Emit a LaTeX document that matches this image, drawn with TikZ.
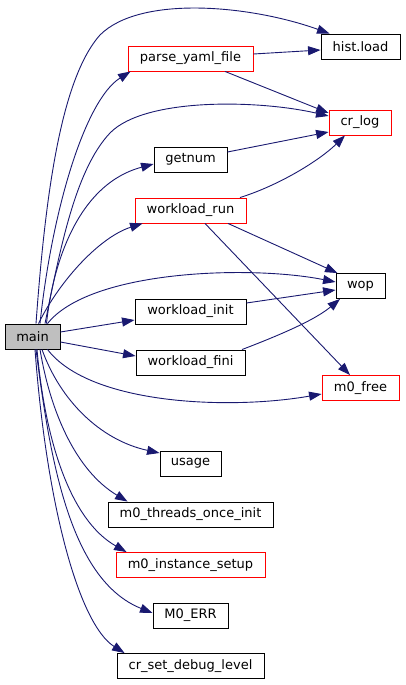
\documentclass[tikz,border=0pt]{standalone}
\usepackage{fontspec}
\setmainfont{DejaVu Sans}
\usetikzlibrary{arrows.meta}
\definecolor{edgeblue}{HTML}{191970}
\definecolor{boxred}{HTML}{FF0000}
\definecolor{boxgray}{HTML}{BFBFBF}
\begin{document}
\begin{tikzpicture}[x=1pt,y=-1pt,
  fn/.style={draw=black, line width=0.9pt, minimum height=25pt, inner sep=0pt,
    font=\fontsize{13}{15}\selectfont, fill=white},
  fnred/.style={fn, draw=boxred},
  call/.style={draw=edgeblue, line width=0.9pt, -{Triangle[length=12.5pt,width=9pt]}}]
\useasboundingbox (0,0) rectangle (405,685);
% nodes
\node[fn, fill=boxgray, minimum width=55pt] (main) at (32.5,336.5) {main};
\node[fn, minimum width=79pt] (hist) at (360.5,46.5) {hist.load};
\node[fnred, minimum width=125pt] (parse) at (190.5,58.5) {parse\_yaml\_file};
\node[fnred, minimum width=62pt] (crlog) at (360,122.5) {cr\_log};
\node[fn, minimum width=73pt] (getnum) at (190.5,159.5) {getnum};
\node[fnred, minimum width=111pt] (wlrun) at (190.5,210.5) {workload\_run};
\node[fn, minimum width=49pt] (wop) at (360.5,286) {wop};
\node[fn, minimum width=111pt] (wlinit) at (190.5,311.5) {workload\_init};
\node[fn, minimum width=109pt] (wlfini) at (190.5,362.5) {workload\_fini};
\node[fnred, minimum width=77pt] (m0free) at (360.5,388) {m0\_free};
\node[fn, minimum width=61pt] (usage) at (190.5,463.5) {usage};
\node[fn, minimum width=165pt] (threads) at (190.5,514.5) {m0\_threads\_once\_init};
\node[fnred, minimum width=149pt] (instance) at (190.5,565) {m0\_instance\_setup};
\node[fn, minimum width=75pt] (merr) at (190.5,615.5) {M0\_ERR};
\node[fn, minimum width=147pt] (crsdl) at (190.5,666) {cr\_set\_debug\_level};
% edges from main
\draw[call] ([xshift=3.5pt]main.north) .. controls (45,200) and (60,80) .. (100,35)
  .. controls (140,-5) and (250,5) .. ([xshift=9pt]hist.north west);
\draw[call] ([xshift=7.5pt]main.north) .. controls (52,210) and (85,100) .. ([xshift=3pt]parse.south west);
\draw[call] ([xshift=12.5pt]main.north) .. controls (60,250) and (75,170) .. (110,133)
  .. controls (145,97) and (260,100) .. ([yshift=6.5pt]crlog.west);
\draw[call] ([xshift=14pt]main.north) .. controls (52,270) and (75,185) .. ([yshift=-4.5pt]getnum.west);
\draw[call] ([xshift=6pt]main.north) .. controls (60,280) and (100,237) .. ([xshift=8pt]wlrun.south west);
\draw[call] ([xshift=15pt]main.north) .. controls (90,270) and (250,265) .. ([yshift=4pt]wop.west);
\draw[call] ([yshift=4.5pt]main.east) -- ([yshift=-8.5pt]wlinit.west);
\draw[call] ([yshift=-5.5pt]main.east) -- ([yshift=6.5pt]wlfini.west);
\draw[call] ([xshift=15pt]main.south) .. controls (90,405) and (230,410) .. ([yshift=-6pt]m0free.west);
\draw[call] ([xshift=9.5pt]main.south) .. controls (60,400) and (100,440) .. ([yshift=10.5pt]usage.west);
\draw[call] ([xshift=7.5pt]main.south) .. controls (50,410) and (75,470) .. ([xshift=20pt]threads.north west);
\draw[call] ([xshift=4.5pt]main.south) .. controls (45,440) and (70,520) .. ([xshift=11pt]instance.north west);
\draw[call] ([xshift=3.5pt]main.south) .. controls (50,460) and (70,580) .. ([yshift=2.5pt]merr.west);
\draw[call] ([xshift=2.5pt]main.south) .. controls (47,510) and (80,625) .. ([xshift=8pt]crsdl.north west);
% other edges
\draw[call] ([yshift=4.5pt]parse.east) -- ([yshift=-3.5pt]hist.west);
\draw[call] ([xshift=34.5pt]parse.south) -- ([yshift=9.5pt]crlog.west);
\draw[call] ([yshift=7.5pt]getnum.east) -- ([yshift=-9.5pt]crlog.west);
\draw[call] ([xshift=49.5pt]wlrun.north) .. controls (280,185) and (320,160) .. ([xshift=-15pt]crlog.south);
\draw[call] ([xshift=37.5pt]wlrun.south) -- ([xshift=2pt]wop.north west);
\draw[call] ([xshift=14.5pt]wlrun.south) -- ([xshift=-10.5pt]m0free.north);
\draw[call] ([yshift=8.5pt]wlinit.east) -- ([yshift=-4pt]wop.west);
\draw[call] ([xshift=51.5pt]wlfini.north) .. controls (280,335) and (315,320) .. ([xshift=-20.5pt]wop.south);
\end{tikzpicture}
\end{document}
